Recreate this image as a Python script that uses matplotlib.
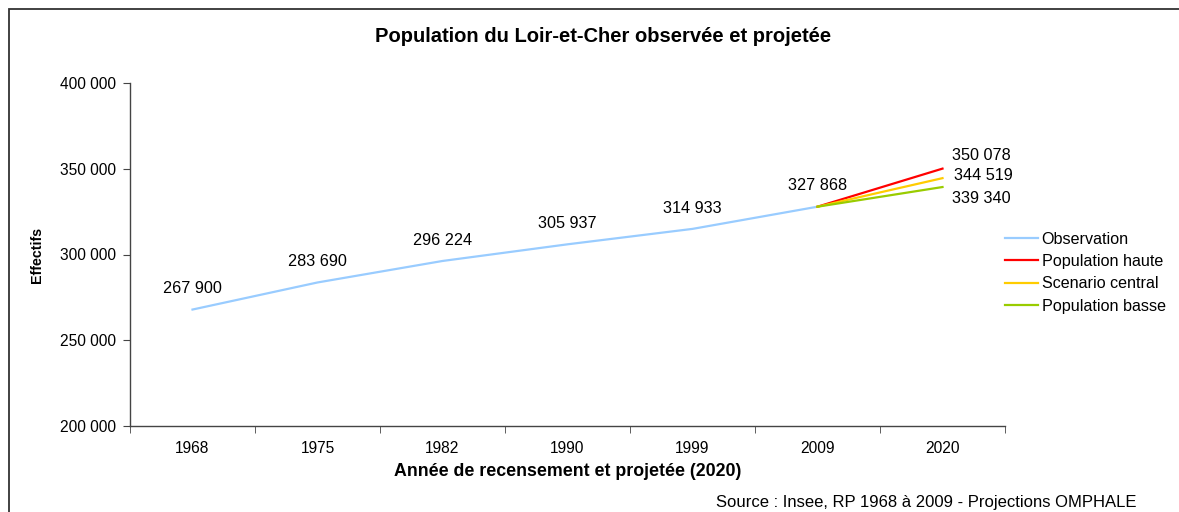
import matplotlib
matplotlib.use("Agg")
import matplotlib.pyplot as plt
from matplotlib.patches import Rectangle
from matplotlib.ticker import FixedLocator, FuncFormatter

plt.rcParams['font.family'] = ['Liberation Sans', 'DejaVu Sans']

# census years (categorical axis) and observed population
years = ['1968', '1975', '1982', '1990', '1999', '2009', '2020']
observation = [267900, 283690, 296224, 305937, 314933, 327868]

# projections from 2009 to 2020
haute = [327868, 350078]
central = [327868, 344519]
basse = [327868, 339340]

c_obs = '#99ccff'
c_haute = '#ff0000'
c_central = '#ffcc00'
c_basse = '#99cc00'

fig = plt.figure(figsize=(11.79, 5.12), dpi=100)
ax = fig.add_axes([130 / 1179, 1 - 426 / 512, 875 / 1179, 343 / 512])

x_obs = list(range(len(observation)))
x_proj = [5, 6]

ax.plot(x_obs, observation, color=c_obs, lw=1.6, label='Observation')
ax.plot(x_proj, haute, color=c_haute, lw=1.6, label='Population haute')
ax.plot(x_proj, central, color=c_central, lw=1.6, label='Scenario central')
ax.plot(x_proj, basse, color=c_basse, lw=1.6, label='Population basse')

def fmt(v):
    return '{:,}'.format(int(v)).replace(',', ' ')

# data labels above the observed points
for x, v in zip(x_obs, observation):
    ax.annotate(fmt(v), (x, v), xytext=(0, 15), textcoords='offset points',
                ha='center', va='center', fontsize=11.7)

# labels for the 2020 projections, to the right of the end point
for v, dx, dy in zip([haute[1], central[1], basse[1]], [7, 8.5, 7], [9.4, 2.2, -8]):
    ax.annotate(fmt(v), (6, v), xytext=(dx, dy), textcoords='offset points',
                ha='left', va='center', fontsize=11.7)

ax.set_xlim(-0.5, 6.5)
ax.set_ylim(200000, 400000)
ax.yaxis.set_major_locator(FixedLocator([200000, 250000, 300000, 350000, 400000]))
ax.yaxis.set_major_formatter(FuncFormatter(lambda v, p: fmt(v)))

ax.set_xticks(range(len(years)))
ax.set_xticklabels(years)
ax.set_xticks([i - 0.5 for i in range(len(years) + 1)], minor=True)
ax.tick_params(axis='x', which='major', length=0, pad=11, labelsize=11.2)
ax.tick_params(axis='x', which='minor', length=5, direction='out', color='#444444')
ax.tick_params(axis='y', length=5, direction='out', color='#444444', labelsize=11.2, pad=5)

for s in ['top', 'right']:
    ax.spines[s].set_visible(False)
for s in ['left', 'bottom']:
    ax.spines[s].set_color('#444444')
    ax.spines[s].set_linewidth(1.0)

ax.set_xlabel('Année de recensement et projetée (2020)', fontsize=12.8,
              fontweight='bold', labelpad=5)
ax.set_ylabel('Effectifs', fontsize=10.3, fontweight='bold')
ax.yaxis.set_label_coords(-86 / 875, 0.5)

fig.text(603 / 1179, 1 - 37 / 512, 'Population du Loir-et-Cher observée et projetée',
         ha='center', va='center', fontsize=14.5, fontweight='bold')
fig.text(1137 / 1179, 1 - 503 / 512,
         'Source : Insee, RP 1968 à 2009 - Projections OMPHALE',
         ha='right', va='center', fontsize=12)

leg = ax.legend(loc='upper left', bbox_to_anchor=(0.993, 0.585), frameon=False,
                fontsize=11.6, handlelength=2.0, handletextpad=0.25,
                labelspacing=0.45, borderaxespad=0)

# outer chart frame (cut off at right and bottom)
fig.patches.append(Rectangle((9 / 1179, -0.1), 1.2, 1 - 9 / 512 + 0.1,
                             transform=fig.transFigure, fill=False,
                             edgecolor='#333333', lw=1.3))

fig.savefig('out.png', dpi=100)
